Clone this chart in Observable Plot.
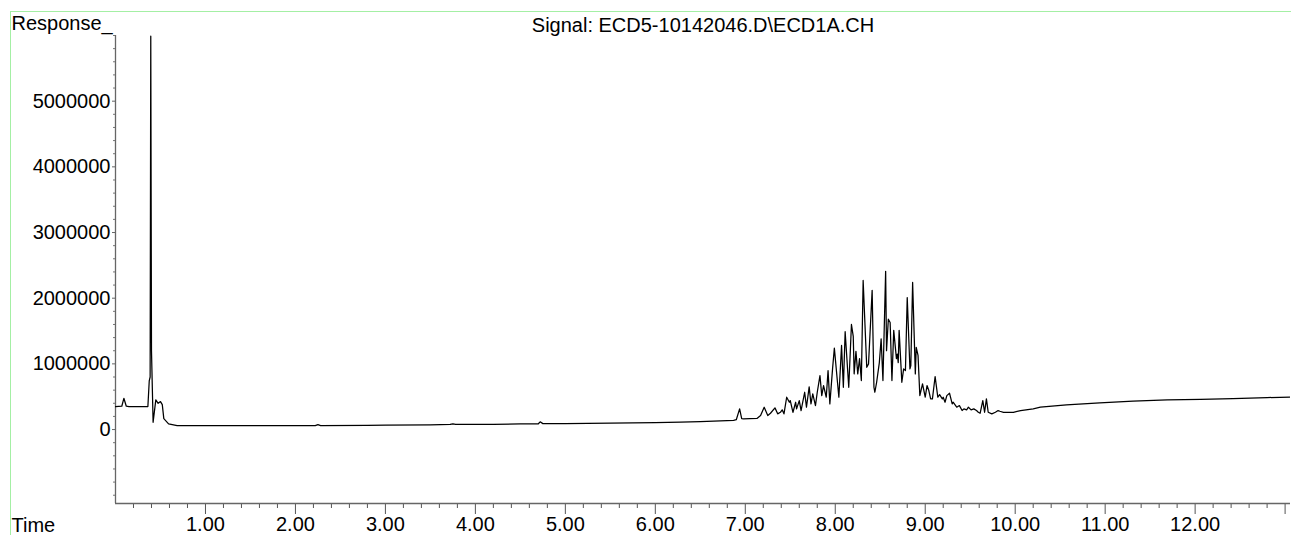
<!DOCTYPE html>
<html>
<head>
<meta charset="utf-8">
<script src="https://cdn.jsdelivr.net/npm/d3@7"></script>
<script src="https://cdn.jsdelivr.net/npm/@observablehq/plot@0.6"></script>
<style>
  html, body { margin: 0; padding: 0; background: #fff; }
  #wrap { position: relative; width: 1291px; height: 535px; overflow: hidden; }
  #border { position: absolute; left: 10px; top: 11px; width: 1281px; height: 524px;
            border-top: 1px solid #a4efa4; border-left: 1px solid #a4efa4; box-sizing: border-box; }
  #chart { position: absolute; left: 0; top: 0; }
</style>
</head>
<body>
<div id="wrap"><div id="border"></div><div id="chart"></div></div>
<script>
const titleText = "Signal: ECD5-10142046.D\\ECD1A.CH";
const yLabel = "Response_";
const xLabel = "Time";

// retention time (min)
const times = [
  0.00, 0.07, 0.093, 0.12, 0.15, 0.36, 0.375, 0.385, 0.392, 0.40, 0.418, 0.448, 0.474, 0.50, 0.52, 0.537, 0.59, 0.685,
  1.00, 1.50, 2.00, 2.22, 2.25, 2.28, 2.80, 3.00, 3.50, 3.72, 3.75, 3.78, 4.20, 4.50, 4.70, 4.72, 4.75, 5.00, 5.50, 6.00,
  6.28, 6.50, 6.65, 6.87, 6.90, 6.937, 6.96, 6.98, 7.05, 7.13, 7.17, 7.21, 7.25, 7.28, 7.33, 7.36, 7.39, 7.41, 7.43,
  7.46, 7.49, 7.50, 7.53, 7.56, 7.57, 7.60, 7.62, 7.66, 7.68, 7.71, 7.73, 7.75, 7.78, 7.80, 7.83, 7.85, 7.87, 7.90,
  7.92, 7.94, 7.97, 7.99, 8.04, 8.07, 8.09, 8.11, 8.15, 8.18, 8.20, 8.21, 8.23, 8.25, 8.27, 8.29, 8.31, 8.35, 8.37,
  8.41, 8.43, 8.44, 8.46, 8.49, 8.51, 8.53, 8.56, 8.57, 8.59, 8.61, 8.63, 8.65, 8.68, 8.69, 8.70, 8.71, 8.74, 8.76,
  8.78, 8.80, 8.83, 8.84, 8.86, 8.89, 8.90, 8.92, 8.94, 8.97, 9.00, 9.02, 9.04, 9.06, 9.08, 9.11, 9.14, 9.16, 9.19,
  9.20, 9.22, 9.24, 9.27, 9.30, 9.31, 9.35, 9.38, 9.41, 9.43, 9.46, 9.48, 9.51, 9.54, 9.57, 9.59, 9.61, 9.64, 9.66,
  9.68, 9.70, 9.74, 9.78, 9.81, 9.83, 9.87, 9.94, 9.98, 10.06, 10.20, 10.28, 10.57, 10.94, 11.31, 11.69, 12.06, 12.42,
  12.80, 13.06
];
// detector response
const responses = [
  350000, 355000, 476000, 355000, 350000, 350000, 740000, 800000, 5990000, 1200000, 111000, 452000, 400000, 426000, 380000, 167000, 87000, 61000,
  58000, 58000, 60000, 60000, 75000, 61000, 63000, 66000, 72000, 78000, 88000, 78000, 80000, 85000, 88000, 118000, 90000, 92000, 96000, 106000,
  112000, 122000, 130000, 140000, 150000, 315000, 165000, 163000, 168000, 170000, 213000, 340000, 213000, 248000, 330000, 239000, 263000, 300000, 239000,
  492000, 416000, 441000, 263000, 416000, 315000, 441000, 289000, 568000, 340000, 650000, 391000, 543000, 365000, 568000, 822000, 517000, 670000, 492000,
  898000, 391000, 924000, 1240000, 492000, 1280000, 644000, 1490000, 644000, 1600000, 1420000, 848000, 1190000, 848000, 1080000, 746000, 2270000, 948000, 1000000,
  2120000, 644000, 568000, 720000, 1020000, 1380000, 746000, 2410000, 1200000, 1680000, 1630000, 746000, 1510000, 1080000, 1150000, 1020000, 1510000, 720000, 924000,
  898000, 2010000, 924000, 974000, 2240000, 848000, 1250000, 1130000, 517000, 695000, 492000, 670000, 594000, 467000, 467000, 807000, 492000, 533000, 467000,
  492000, 416000, 517000, 553000, 391000, 416000, 340000, 365000, 289000, 315000, 300000, 340000, 300000, 315000, 289000, 263000, 248000, 441000, 263000,
  467000, 263000, 239000, 263000, 289000, 279000, 263000, 263000, 263000, 289000, 315000, 340000, 376000, 406000, 431000, 452000, 461000, 472000,
  487000, 492000
];

const xMajorTicks = [1, 2, 3, 4, 5, 6, 7, 8, 9, 10, 11, 12, 13];
const xTickLabels = ["1.00", "2.00", "3.00", "4.00", "5.00", "6.00", "7.00", "8.00", "9.00", "10.00", "11.00", "12.00", ""];
const xMinorTicks = [0.2,0.4,0.6,0.8,1.2,1.4,1.6,1.8,2.2,2.4,2.6,2.8,3.2,3.4,3.6,3.8,4.2,4.4,4.6,4.8,5.2,5.4,5.6,5.8,
  6.2,6.4,6.6,6.8,7.2,7.4,7.6,7.8,8.2,8.4,8.6,8.8,9.2,9.4,9.6,9.8,10.2,10.4,10.6,10.8,11.2,11.4,11.6,11.8,12.2,12.4,12.6,12.8];
const yMajorTicks = [0, 1000000, 2000000, 3000000, 4000000, 5000000];
const yMinorTicks = [-1000000,-800000,-600000,-400000,-200000,200000,400000,600000,800000,1200000,1400000,1600000,1800000,
  2200000,2400000,2600000,2800000,3200000,3400000,3600000,3800000,4200000,4400000,4600000,4800000,5200000,5400000,5600000,5800000,6000000];
const xDomain = [0, 13.06];
const yDomain = [-1126000, 6000000];

const data = times.map((t, i) => ({t, v: responses[i]}));

const chart = Plot.plot({
  width: 1291,
  height: 535,
  marginLeft: 115,
  marginRight: 1,
  marginTop: 35,
  marginBottom: 32,
  style: {fontFamily: "'Liberation Sans', Arial, sans-serif", fontSize: "20px", background: "transparent", color: "#000", overflow: "visible"},
  x: {domain: xDomain},
  y: {domain: yDomain},
  marks: [
    Plot.axisY({ticks: yMinorTicks, tickSize: 2, tickFormat: () => "", stroke: "#777", label: null}),
    Plot.axisY({ticks: yMajorTicks, tickSize: 3, tickPadding: 2, tickFormat: d => String(d), stroke: "#666", label: null}),
    Plot.axisX({ticks: xMinorTicks, tickSize: 5, tickFormat: () => "", stroke: "#555", label: null}),
    Plot.axisX({ticks: xMajorTicks, tickSize: 11, tickPadding: 2, tickFormat: d => xTickLabels[xMajorTicks.indexOf(d)], stroke: "#555", label: null}),
    Plot.ruleX([xDomain[0]], {stroke: "#666", strokeWidth: 1.3}),
    Plot.ruleY([yDomain[0]], {stroke: "#666", strokeWidth: 1.3}),
    Plot.line(data, {x: "t", y: "v", stroke: "#000", strokeWidth: 1.25, clip: true}),
    Plot.text([yLabel], {frameAnchor: "top-left", dx: -104, dy: -6, textAnchor: "start", lineAnchor: "bottom", fill: "#000"}),
    Plot.text([xLabel], {frameAnchor: "bottom-left", dx: -104, dy: 28, textAnchor: "start", lineAnchor: "bottom", fill: "#000"}),
    Plot.text([titleText], {frameAnchor: "top", dy: -4, textAnchor: "middle", lineAnchor: "bottom", fill: "#000"})
  ]
});
document.getElementById("chart").appendChild(chart);
</script>
</body>
</html>
